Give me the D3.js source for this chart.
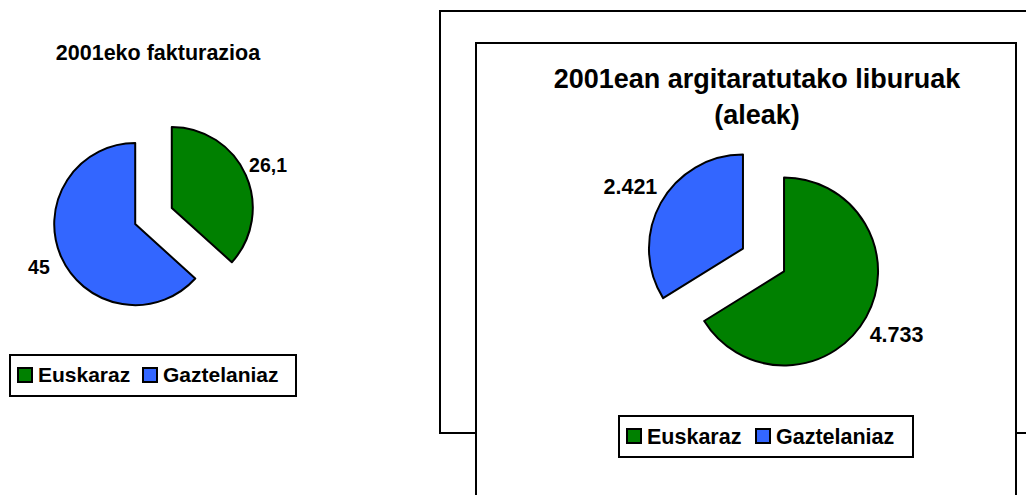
<!DOCTYPE html>
<html><head><meta charset="utf-8">
<script src="https://cdn.jsdelivr.net/npm/d3@7"></script>
<style>
html,body{margin:0;padding:0;background:#fff;}
svg{display:block;font-family:"Liberation Sans",Arial,sans-serif;font-weight:bold;}
</style></head>
<body>
<svg id="c" width="1026" height="495"></svg>
<script>
// ---- data ----
const categories = ["Euskaraz", "Gaztelaniaz"];
const colors = ["#008000", "#3366FF"];
const leftTitle = ["2001eko fakturazioa"];
const leftValues = [26.1, 45];
const leftLabels = ["26,1", "45"];
const rightTitle = ["2001ean argitaratutako liburuak", "(aleak)"];
const rightValues = [4733, 2421];
const rightLabels = ["4.733", "2.421"];

const svg = d3.select("#c");

// frames for the right chart (outer and inner borders)
svg.append("rect").attr("x", 440).attr("y", 11).attr("width", 620).attr("height", 422)
  .attr("fill", "#fff").attr("stroke", "#000").attr("stroke-width", 2);
svg.append("rect").attr("x", 476).attr("y", 43).attr("width", 540).attr("height", 480)
  .attr("fill", "#fff").attr("stroke", "#000").attr("stroke-width", 2);

function drawPie(cfg) {
  const g = svg.append("g");
  cfg.title.forEach((t, i) => {
    g.append("text").attr("x", cfg.titleX).attr("y", cfg.titleY + i * cfg.titleGap)
      .attr("text-anchor", "middle").attr("dy", "0.35em")
      .style("font-size", cfg.titleSize + "px").text(t);
  });
  const pie = d3.pie().sort(null).value(d => d.v);
  const arcs = pie(cfg.values.map((v, i) => ({v, i, label: cfg.labels[i]})));
  const arc = d3.arc().innerRadius(0).outerRadius(cfg.r);
  const labelArc = d3.arc().innerRadius(cfg.r * cfg.lk).outerRadius(cfg.r * cfg.lk);
  const pg = g.append("g").attr("transform", `translate(${cfg.cx},${cfg.cy})`);
  arcs.forEach(d => {
    const mid = (d.startAngle + d.endAngle) / 2;
    const ox = Math.sin(mid) * cfg.explode, oy = -Math.cos(mid) * cfg.explode;
    const sg = pg.append("g").attr("transform", `translate(${ox},${oy})`);
    sg.append("path").attr("d", arc(d)).attr("fill", colors[d.data.i])
      .attr("stroke", "#000").attr("stroke-width", 2).attr("stroke-linejoin", "round");
    const c = labelArc.centroid(d);
    sg.append("text").attr("x", c[0]).attr("y", c[1]).attr("dy", "0.35em")
      .attr("text-anchor", "middle").style("font-size", cfg.labelSize + "px").text(d.data.label);
  });
  const lg = g.append("g").attr("transform", `translate(${cfg.lx},${cfg.ly})`);
  lg.append("rect").attr("width", cfg.lw).attr("height", 41).attr("fill", "#fff")
    .attr("stroke", "#000").attr("stroke-width", 2);
  const x = d3.scalePoint().domain(categories).range([0, cfg.lstep]);
  categories.forEach((c, i) => {
    const it = lg.append("g").attr("transform", `translate(${8 + x(c)},0)`);
    it.append("rect").attr("x", 0).attr("y", 13).attr("width", 14).attr("height", 14)
      .attr("fill", colors[i]).attr("stroke", "#000").attr("stroke-width", 2);
    it.append("text").attr("x", 20).attr("y", 20).attr("dy", "0.35em")
      .style("font-size", cfg.legendSize + "px").text(c);
  });
}

drawPie({title: leftTitle, titleX: 158, titleY: 52, titleGap: 0, titleSize: 21.5,
  values: leftValues, labels: leftLabels, cx: 153.5, cy: 216, r: 81, explode: 20, lk: 1.3,
  labelSize: 19.5, lx: 10, ly: 355, lw: 286, lstep: 125, legendSize: 21});

drawPie({title: rightTitle, titleX: 757, titleY: 79, titleGap: 36, titleSize: 27,
  values: rightValues, labels: rightLabels, cx: 763.5, cy: 260, r: 94, explode: 23.5, lk: 1.37,
  labelSize: 21.5, lx: 619, ly: 416, lw: 294, lstep: 129, legendSize: 21.5});
</script>
</body></html>
